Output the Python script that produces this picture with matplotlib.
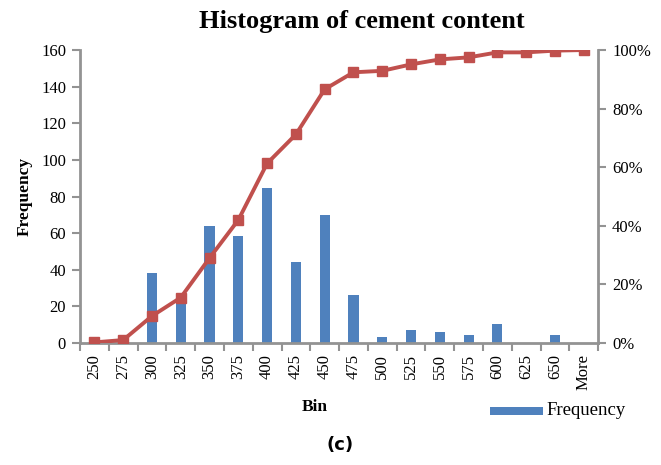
import matplotlib.pyplot as plt
import numpy as np
from matplotlib.patches import Rectangle

# bin labels, counts per bin and cumulative percentage
bins = ["250", "275", "300", "325", "350", "375", "400", "425", "450",
        "475", "500", "525", "550", "575", "600", "625", "650", "More"]
freq = [0, 0, 38, 23, 64, 58.5, 84.5, 44, 70, 26.2, 3, 7.3, 6, 4.5, 10.2, 0, 4.5, 0]
cum_pct = [0.2, 1.0, 9.2, 15.5, 29, 42, 61.3, 71.2, 86.6, 92.4, 92.9,
           95.1, 96.8, 97.5, 99.2, 99.2, 99.8, 100]

BLUE = "#4F81BD"
RED = "#C0504D"
GREY = "#939393"
plt.rcParams['font.family'] = ['Liberation Serif', 'DejaVu Serif']

fig = plt.figure(figsize=(6.61, 4.65), dpi=100)
ax = fig.add_axes([0.121, 0.2624, 0.784, 0.630])
x = np.arange(len(bins))

ax.bar(x, freq, width=0.35, color=BLUE, zorder=2)
ax.set_xlim(-0.5, len(bins) - 0.5)
ax.set_ylim(0, 160)
ax.set_yticks(np.arange(0, 161, 20))

ax2 = ax.twinx()
ax2.plot(x, cum_pct, color=RED, lw=2.8, marker="s", markersize=7.5, zorder=3)
ax2.set_ylim(0, 100)
ax2.set_yticks(np.arange(0, 101, 20))
ax2.set_yticklabels([f"{v}%" for v in range(0, 101, 20)])

for a in (ax, ax2):
    for s in a.spines.values():
        s.set_visible(False)
ax.spines["left"].set_visible(True)
ax.spines["bottom"].set_visible(True)
ax2.spines["right"].set_visible(True)
for s in (ax.spines["left"], ax.spines["bottom"], ax2.spines["right"]):
    s.set_color(GREY)
    s.set_linewidth(2)

ax.set_xticks(x)
ax.set_xticklabels(bins, rotation=90, fontsize=12)
ax.set_xticks(np.arange(-0.5, len(bins)), minor=True)
ax.tick_params(axis="x", which="major", length=0, pad=8)
ax.tick_params(axis="x", which="minor", length=6, width=1.5, color=GREY, direction="out")
ax.tick_params(axis="y", length=6, width=1.5, color=GREY, labelsize=12, pad=4)
ax2.tick_params(axis="y", length=6, width=1.5, color=GREY, labelsize=12, pad=4)

ax.set_ylabel("Frequency", fontsize=12.5, fontweight="bold", labelpad=6)
fig.text(0.476, 0.124, "Bin", fontsize=12.5, fontweight="bold", ha="center", va="center")
fig.text(0.548, 0.953, "Histogram of cement content", fontsize=19, fontweight="bold",
         ha="center", va="center")

# legend drawn like the Excel one: a flat blue bar and the series name
fig.patches.append(Rectangle((0.741, 0.108), 0.080, 0.017, transform=fig.transFigure,
                             facecolor=BLUE, edgecolor="none"))
fig.text(0.826, 0.118, "Frequency", fontsize=13.5, ha="left", va="center")
fig.text(0.515, 0.043, "(c)", fontsize=13, fontweight="bold", ha="center", va="center",
         family=["DejaVu Sans"])

fig.savefig("out.png", dpi=100)
